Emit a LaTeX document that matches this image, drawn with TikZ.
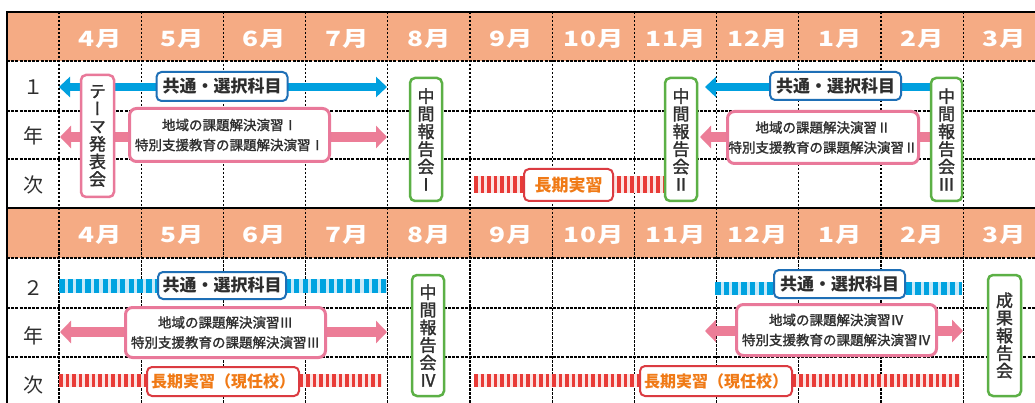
\documentclass[tikz,border=0pt]{standalone}
\usepackage{fontspec}
\setmainfont{Noto Sans CJK JP}
\newfontfamily\jpv[RawFeature=+vert, FakeBold=1.5]{Noto Sans CJK JP}
\newfontfamily\jpm[FakeBold=1.5]{Noto Sans CJK JP}
\newfontfamily\hdrfont[FakeStretch=1.25, LetterSpace=5]{Noto Sans CJK JP}
\usetikzlibrary{arrows.meta}
\definecolor{hdr}{HTML}{F5AB84}
\definecolor{arrblue}{HTML}{00A0DF}
\definecolor{bluebd}{HTML}{1E6FB6}
\definecolor{pinkarr}{HTML}{EC7D97}
\definecolor{pinkbd}{HTML}{E9799A}
\definecolor{greenbd}{HTML}{5CB046}
\definecolor{stripered}{HTML}{E83B37}
\definecolor{redpale}{HTML}{FBE3E2}
\definecolor{redbd}{HTML}{DB3B41}
\definecolor{orangetxt}{HTML}{F07A16}
\definecolor{txt}{HTML}{2E2E2E}
\definecolor{bluepale}{HTML}{C9E9F8}
\definecolor{stripeblue}{HTML}{00A3E0}
\tikzset{
  btip/.tip={Triangle[width=20pt,length=11pt]},
  ptip/.tip={Triangle[width=22pt,length=11pt]},
  hline/.style={line width=1.3pt, dash pattern=on 3pt off 1.2pt, black},
  vline/.style={line width=1.1pt, dash pattern=on 2.5pt off 1.5pt, black},
  border/.style={line width=1.8pt, black},
  hdrtext/.style={text=white, font=\hdrfont\fontsize{21}{21}\selectfont\bfseries},
  rowlab/.style={text=txt, font=\fontsize{20}{20}\selectfont},
  bluearrow/.style={draw=arrblue, line width=8.5pt},
  pinkarrow/.style={draw=pinkarr, line width=10pt},
  redbase/.style={draw=redpale, line width=#1},
  redstripe/.style={draw=stripered, line width=#1, dash pattern=on 3.8pt off 2.7pt},
  bluebase/.style={draw=bluepale, line width=#1},
  bluestripe/.style={draw=stripeblue, line width=#1, dash pattern=on 5.5pt off 3.2pt},
  boxbase/.style={fill=white, rounded corners=5pt, inner sep=0pt, text=txt},
  bluebox/.style={boxbase, draw=bluebd, line width=2pt, font=\fontsize{17}{17}\selectfont\bfseries},
  pinkbox/.style={boxbase, draw=pinkbd, line width=3pt, rounded corners=7pt, align=center, font=\jpm\fontsize{13.5}{20}\selectfont},
  redbox/.style={boxbase, draw=redbd, line width=2pt, text=orangetxt, font=\fontsize{17}{17}\selectfont\bfseries},
  vertbox/.style={boxbase, line width=2.5pt, align=center, font=\jpv\fontsize{17}{17.6}\selectfont},
  greenbox/.style={vertbox, draw=greenbd},
  pinkvbox/.style={vertbox, draw=pinkbd},
}
\begin{document}
\begin{tikzpicture}[x=1pt,y=-1pt]
\useasboundingbox (0,0) rectangle (1035,403);
\fill[white] (0,0) rectangle (1035,403);
% header bands
\fill[hdr] (7,12) rectangle (1035,61);
\fill[hdr] (7,208) rectangle (1035,258);
% grid
\foreach \k in {0,...,11} \draw[vline] ({59+82.2*\k},12) -- ({59+82.2*\k},403);
\foreach \yy in {61,111,159,258,308,357} \draw[hline] (7,\yy) -- (1035,\yy);
\draw[border] (1035,12) -- (7,12) -- (7,403);
\draw[border] (7,208) -- (1035,208);
% month headers
\foreach \m [count=\k from 0] in {4,5,6,7,8,9,10,11,12,1,2,3} {
  \node[hdrtext] (ha\k) at ({59+82.2*(\k+0.5)},38.5) {\m 月};
  \node[hdrtext] (hb\k) at ({59+82.2*(\k+0.5)},234.5) {\m 月};
}
% row labels
\node[rowlab] (ra1) at (33,87) {１};
\node[rowlab] (ra2) at (33,136) {年};
\node[rowlab] (ra3) at (33,185) {次};
\node[rowlab] (rb1) at (33,288) {２};
\node[rowlab] (rb2) at (33,336) {年};
\node[rowlab] (rb3) at (33,385) {次};

% ===== year 1 =====
\coordinate (a1l) at (59,87);   \coordinate (a1r) at (387,87);
\coordinate (a2l) at (60,137);  \coordinate (a2r) at (387,137);
\coordinate (a3l) at (474,184.5); \coordinate (a3r) at (663,184.5);
\coordinate (a4l) at (705,87);  \coordinate (a4r) at (935,87);
\coordinate (a5l) at (700,137); \coordinate (a5r) at (935,137);
\draw[bluearrow, btip-btip] (a1l) -- (a1r);
\draw[pinkarrow, ptip-ptip] (a2l) -- (a2r);
\draw[redbase=17pt] (a3l) -- (a3r);
\draw[redstripe=17pt] (a3l) -- (a3r);
\draw[bluearrow, btip-] (a4l) -- (a4r);
\draw[pinkarrow, ptip-] (a5l) -- (a5r);

\node[bluebox, minimum width=131pt, minimum height=29pt] (k1) at (222,86.5) {共通・選択科目};
\node[pinkbox, minimum width=200pt, minimum height=53pt] (c1) at (229.5,135) {地域の課題解決演習Ⅰ\\特別支援教育の課題解決演習Ⅰ};
\node[pinkvbox, minimum width=33pt, minimum height=122pt] (t1) at (97.5,136) {テ\\ー\\マ\\発\\表\\会};
\node[greenbox, minimum width=32pt, minimum height=123pt] (m1) at (426,139.5) {中\\間\\報\\告\\会\\Ⅰ};
\node[greenbox, minimum width=32pt, minimum height=123pt] (m2) at (681,139.5) {中\\間\\報\\告\\会\\Ⅱ};
\node[redbox, minimum width=89pt, minimum height=32pt] (j1) at (568.5,185) {長期実習};
\node[bluebox, minimum width=131pt, minimum height=28pt] (k2) at (835.5,86) {共通・選択科目};
\node[pinkbox, minimum width=191pt, minimum height=52pt] (c2) at (823,137.5) {地域の課題解決演習Ⅱ\\特別支援教育の課題解決演習Ⅱ};
\node[greenbox, minimum width=31pt, minimum height=123pt] (m3) at (946.5,139.5) {中\\間\\報\\告\\会\\Ⅲ};

% ===== year 2 =====
\coordinate (b1l) at (59,286);  \coordinate (b1r) at (387,286);
\coordinate (b2l) at (60,332);  \coordinate (b2r) at (387,332);
\coordinate (b3l) at (59,380);  \coordinate (b3r) at (382,380);
\coordinate (b4l) at (474,380); \coordinate (b4r) at (960,380);
\coordinate (b5l) at (715,288); \coordinate (b5r) at (962,288);
\coordinate (b6l) at (705,331); \coordinate (b6r) at (963,331);
\draw[bluebase=14pt] (b1l) -- (b1r);
\draw[bluestripe=14pt] (b1l) -- (b1r);
\draw[pinkarrow, ptip-ptip] (b2l) -- (b2r);
\draw[redbase=13pt] (b3l) -- (b3r);
\draw[redstripe=13pt] (b3l) -- (b3r);
\draw[redbase=13pt] (b4l) -- (b4r);
\draw[redstripe=13pt] (b4l) -- (b4r);
\draw[bluebase=13pt] (b5l) -- (b5r);
\draw[bluestripe=13pt] (b5l) -- (b5r);
\draw[pinkarrow, ptip-ptip] (b6l) -- (b6r);

\node[bluebox, minimum width=128pt, minimum height=27pt] (k3) at (222,285.5) {共通・選択科目};
\node[pinkbox, minimum width=200pt, minimum height=50pt] (c3) at (225.5,332.5) {地域の課題解決演習Ⅲ\\特別支援教育の課題解決演習Ⅲ};
\node[redbox, minimum width=152pt, minimum height=29pt, font=\fontsize{16}{16}\selectfont\bfseries] (j2) at (223,381.5) {長期実習（現任校）};
\node[greenbox, minimum width=32pt, minimum height=121pt] (m4) at (428,335.5) {中\\間\\報\\告\\会\\Ⅳ};
\node[redbox, minimum width=152pt, minimum height=30pt, font=\fontsize{16}{16}\selectfont\bfseries] (j3) at (716,381) {長期実習（現任校）};
\node[bluebox, minimum width=131pt, minimum height=28pt] (k4) at (839.5,284) {共通・選択科目};
\node[pinkbox, minimum width=200pt, minimum height=51pt] (c4) at (836.5,330) {地域の課題解決演習Ⅳ\\特別支援教育の課題解決演習Ⅳ};
\node[greenbox, minimum width=33pt, minimum height=121pt] (s1) at (1004.5,335.5) {成\\果\\報\\告\\会};
\end{tikzpicture}
\end{document}
